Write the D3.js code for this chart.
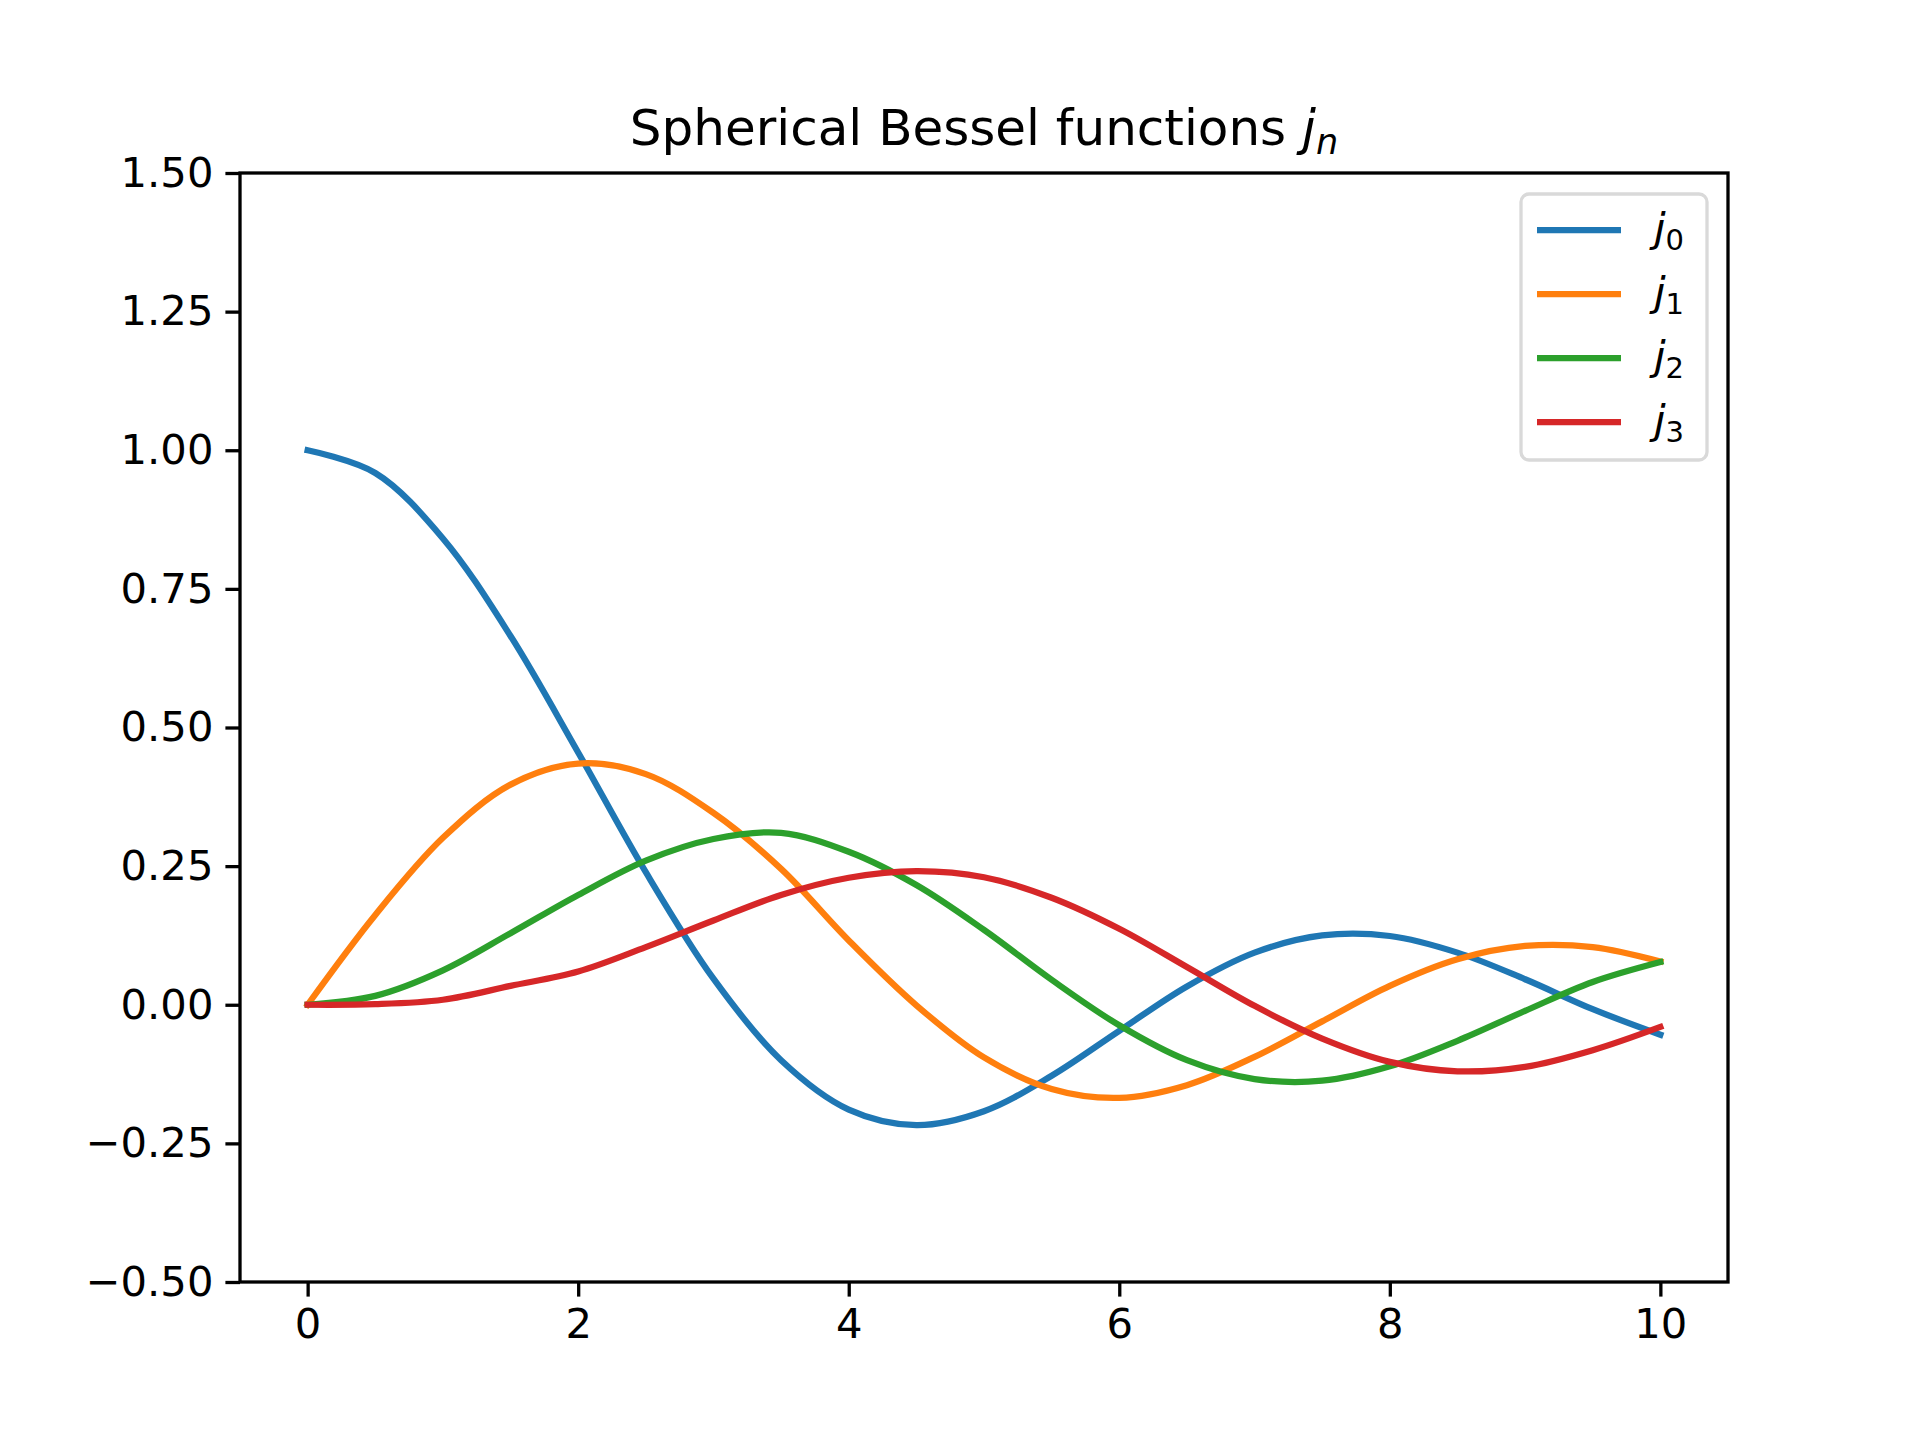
<!DOCTYPE html>
<html><head><meta charset="utf-8">
<script src="https://cdn.jsdelivr.net/npm/d3@7"></script>
<style>body{margin:0;background:#fff}text{font-family:"DejaVu Sans",sans-serif}</style>
</head><body>
<script>
const xs = [0,0.5,1,1.5,2,2.5,3,3.5,4,4.5,5,5.5,6,6.5,7,7.5,8,8.5,9,9.5,10]
const j0 = [1,0.959,0.841,0.665,0.455,0.239,0.047,-0.100,-0.189,-0.217,-0.192,-0.128,-0.047,0.033,0.094,0.125,0.124,0.094,0.046,-0.008,-0.054]
const j1 = [0,0.162,0.301,0.397,0.435,0.416,0.346,0.245,0.116,-0.001,-0.095,-0.152,-0.168,-0.145,-0.094,-0.030,0.034,0.082,0.106,0.104,0.078]
const j2 = [0,0.016,0.062,0.129,0.198,0.260,0.299,0.310,0.276,0.216,0.135,0.045,-0.037,-0.100,-0.134,-0.137,-0.111,-0.065,-0.011,0.041,0.077]
const j3 = [0,0.001,0.009,0.034,0.060,0.104,0.152,0.198,0.229,0.241,0.230,0.193,0.137,0.068,-0.002,-0.061,-0.103,-0.120,-0.112,-0.082,-0.040]
const seriesNames = ['0','1','2','3']
const colors = ['#1f77b4','#ff7f0e','#2ca02c','#d62728']
const xTicks = [0,2,4,6,8,10]
const yTicks = [-0.5,-0.25,0,0.25,0.5,0.75,1,1.25,1.5]

const W = 1920, H = 1440
const L = 240, R = 1728, T = 173, B = 1282
const svg = d3.select('body').append('svg').attr('width', W).attr('height', H)
const x = d3.scaleLinear().domain([-0.5, 10.5]).range([L, R])
const y = d3.scaleLinear().domain([-0.5, 1.5]).range([B, T])

const line = d3.line().x((d, i) => x(xs[i])).y(d => y(d)).curve(d3.curveCatmullRom)
;[j0, j1, j2, j3].forEach((s, k) => {
  svg.append('path').attr('d', line(s)).attr('fill', 'none')
    .attr('stroke', colors[k]).attr('stroke-width', 6.25).attr('stroke-linecap', 'square')
})

const xAxis = svg.append('g').attr('transform', `translate(0,${B})`)
  .call(d3.axisBottom(x).tickValues(xTicks).tickSize(14.6).tickPadding(12).tickFormat(d3.format('d')))
const yAxis = svg.append('g').attr('transform', `translate(${L},0)`)
  .call(d3.axisLeft(y).tickValues(yTicks).tickSize(14.6).tickPadding(12)
    .tickFormat(d => d3.format('.2f')(d).replace('-', '\u2212')))
;[xAxis, yAxis].forEach(a => {
  a.select('.domain').remove()
  a.selectAll('line').attr('stroke', '#000').attr('stroke-width', 3.3)
  a.selectAll('text').attr('font-size', 41.7).attr('fill', '#000').attr('font-family', 'DejaVu Sans')
})
svg.append('rect').attr('x', L).attr('y', T).attr('width', R - L).attr('height', B - T)
  .attr('fill', 'none').attr('stroke', '#000').attr('stroke-width', 3.3)

const title = svg.append('text').attr('x', (L + R) / 2).attr('y', 145).attr('text-anchor', 'middle')
  .attr('font-size', 50)
title.append('tspan').text('Spherical Bessel functions ')
title.append('tspan').attr('font-style', 'italic').text('j')
title.append('tspan').attr('font-style', 'italic').attr('font-size', 35).attr('dy', 9).text('n')

// legend
const lx = 1521, ly = 194, lw = 186, lh = 266
svg.append('rect').attr('x', lx).attr('y', ly).attr('width', lw).attr('height', lh).attr('rx', 8)
  .attr('fill', '#fff').attr('fill-opacity', 0.8).attr('stroke', '#d9d9d9').attr('stroke-width', 3.3)
seriesNames.forEach((n, k) => {
  const ry = 230 + k * 64
  svg.append('line').attr('x1', lx + 16).attr('x2', lx + 100).attr('y1', ry).attr('y2', ry)
    .attr('stroke', colors[k]).attr('stroke-width', 6.25)
  const t = svg.append('text').attr('x', lx + 133).attr('y', ry + 12).attr('font-size', 41.7)
  t.append('tspan').attr('font-style', 'italic').text('j')
  t.append('tspan').attr('font-size', 29).attr('dy', 8).text(n)
})
</script>
</body></html>
